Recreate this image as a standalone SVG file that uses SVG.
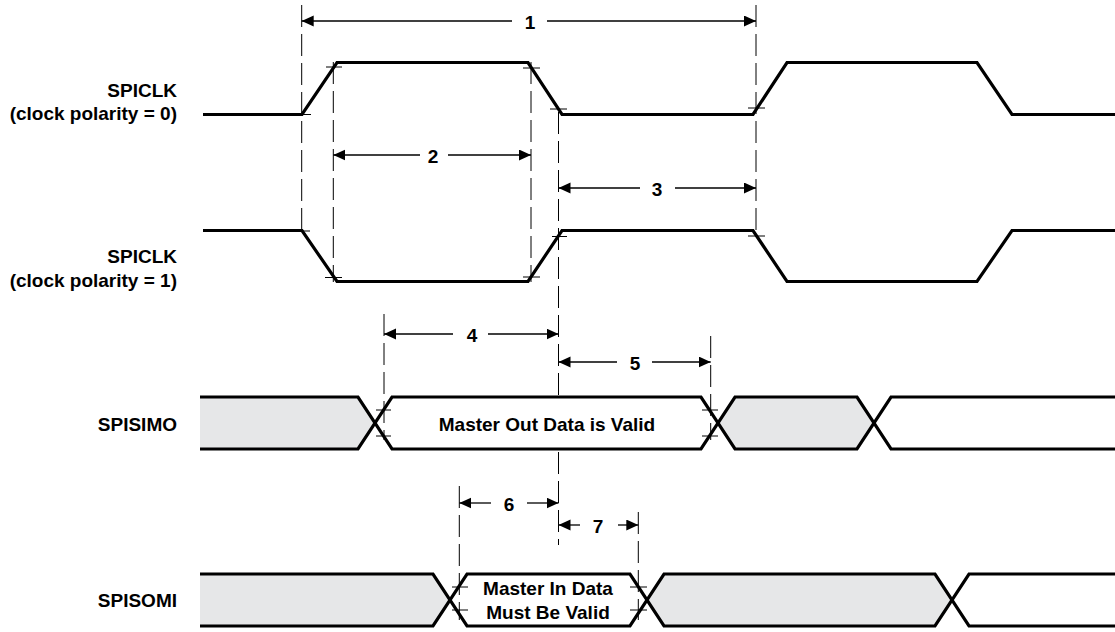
<svg xmlns="http://www.w3.org/2000/svg" width="1115" height="632" viewBox="0 0 1115 632">
<style>
text{font-family:"Liberation Sans",Arial,sans-serif;font-weight:bold;font-size:19px;fill:#000}
.lbl{text-anchor:end}
.mid{text-anchor:middle}
.wave{fill:none;stroke:#000;stroke-width:3.2;stroke-linejoin:miter}
.shade{fill:#e6e7e8;stroke:none}
.dash{fill:none;stroke:#000;stroke-width:1;stroke-dasharray:22 7}
.tick{fill:none;stroke:#000;stroke-width:1}
.dim{fill:none;stroke:#000;stroke-width:1.3;marker-end:url(#ah)}
</style>
<defs>
<marker id="ah" markerUnits="userSpaceOnUse" markerWidth="13" markerHeight="12" refX="12" refY="5.5" orient="auto-start-reverse">
<path d="M0,0 L12,5.5 L0,11 z" fill="#000"/>
</marker>
</defs>
<rect width="1115" height="632" fill="#fff"/>

<g id="spiclk0">
<text class="lbl" x="177" y="97">SPICLK</text>
<text class="lbl" x="177" y="120">(clock polarity = 0)</text>
<path class="wave" d="M203,114.5 H302 L337,62.5 H528 L562,114.5 H753 L787,62.5 H977 L1012,114.5 H1115"/>
</g>

<g id="spiclk1">
<text class="lbl" x="177" y="263">SPICLK</text>
<text class="lbl" x="177" y="287">(clock polarity = 1)</text>
<path class="wave" d="M203,230.5 H302 L337,281.5 H528 L562,230.5 H753 L787,281.5 H977 L1012,230.5 H1115"/>
</g>

<g id="spisimo">
<text class="lbl" x="177" y="431">SPISIMO</text>
<polygon class="shade" points="200,397 358,397 375,423 358,449 200,449"/>
<polygon class="shade" points="718,423 735,397 857,397 874,423 857,449 735,449"/>
<path class="wave" d="M200,397 H358 L392,449 H701 L735,397 H857 L891,449 H1115"/>
<path class="wave" d="M200,449 H358 L392,397 H701 L735,449 H857 L891,397 H1115"/>
<text class="mid" x="547" y="431">Master Out Data is Valid</text>
</g>

<g id="spisomi">
<text class="lbl" x="177" y="607">SPISOMI</text>
<polygon class="shade" points="200,574 433,574 450,600 433,626 200,626"/>
<polygon class="shade" points="647,600 664,574 935,574 952,600 935,626 664,626"/>
<path class="wave" d="M200,574 H433 L467,626 H630 L664,574 H935 L969,626 H1115"/>
<path class="wave" d="M200,626 H433 L467,574 H630 L664,626 H935 L969,574 H1115"/>
<text class="mid" x="548" y="595">Master In Data</text>
<text class="mid" x="548" y="619">Must Be Valid</text>
</g>

<g id="connectors">
<path class="dash" d="M301.7,5 V230"/>
<path class="dash" d="M333.3,62 V282"/>
<path class="dash" d="M531,62 V282"/>
<path class="dash" d="M558.5,112 V397"/>
<path class="dash" d="M558.5,452 V545"/>
<path class="dash" d="M756,5 V237"/>
<path class="dash" d="M384,314 V440"/>
<path class="dash" d="M710.7,336 V440"/>
<path class="dash" d="M459.3,486 V620"/>
<path class="dash" d="M638.3,512 V620"/>

<path class="tick" d="M301,114.5 H311 M326,67 H342 M523,68 H540 M550,109 H567 M748,108 H765
M302,231 H310 M325,277.5 H342 M523,277 H540 M552,236.5 H567 M748,236 H765
M376,410 H391 M376,436 H391 M702,410 H718 M702,436 H718
M452,587 H468 M452,610 H468 M630,587 H647 M630,610 H647"/>

<g id="dim1">
<path class="dim" d="M512,21 H301.7"/><path class="dim" d="M547,21 H756"/>
<text class="mid" x="530" y="28.5">1</text>
</g>
<g id="dim2">
<path class="dim" d="M420,155 H333.3"/><path class="dim" d="M448,155 H531"/>
<text class="mid" x="433" y="162.5">2</text>
</g>
<g id="dim3">
<path class="dim" d="M640,188 H558.5"/><path class="dim" d="M675,188 H756"/>
<text class="mid" x="657" y="195.5">3</text>
</g>
<g id="dim4">
<path class="dim" d="M453,334 H384"/><path class="dim" d="M488,334 H558.5"/>
<text class="mid" x="472" y="341.5">4</text>
</g>
<g id="dim5">
<path class="dim" d="M617,362 H558.5"/><path class="dim" d="M652,362 H710.7"/>
<text class="mid" x="635" y="369.5">5</text>
</g>
<g id="dim6">
<path class="dim" d="M491,503 H459.3"/><path class="dim" d="M527,503 H558.5"/>
<text class="mid" x="509" y="510.5">6</text>
</g>
<g id="dim7">
<path class="dim" d="M580,525 H558.5"/><path class="dim" d="M618,525 H638.3"/>
<text class="mid" x="598" y="532.5">7</text>
</g>
</g>
</svg>
